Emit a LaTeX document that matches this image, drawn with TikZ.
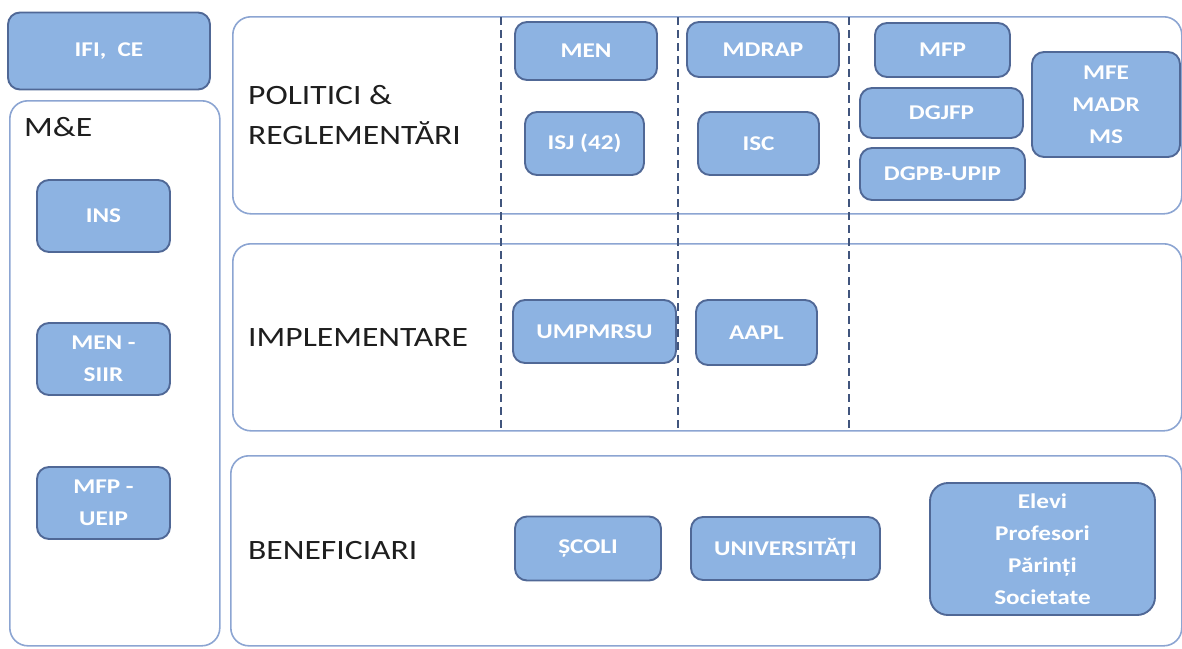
\documentclass[tikz,border=0pt]{standalone}
\usepackage{fontspec}
\setmainfont{Carlito}[FakeStretch=1.2]
\usepackage{tikz}
\usetikzlibrary{shapes}

\definecolor{orgfill}{RGB}{141,179,226}
\definecolor{orgline}{RGB}{80,104,150}
\definecolor{panelline}{RGB}{140,165,210}
\definecolor{divline}{RGB}{65,85,125}
\definecolor{lbltext}{RGB}{30,30,30}

\begin{document}
\begin{tikzpicture}[x=1pt,y=-1pt]
    \tikzstyle{panel}=[rectangle,draw=panelline,line width=1.6pt,rounded corners=18pt,inner sep=0pt,anchor=north west]
    \tikzstyle{org}=[rectangle,draw=orgline,fill=orgfill,line width=1.9pt,rounded corners=12pt,inner sep=0pt,
      text=white,align=center,font=\bfseries\fontsize{21}{32}\selectfont]
    \tikzstyle{lbl}=[anchor=west,align=left,inner sep=0pt,text=lbltext,font=\fontsize{28}{40}\selectfont]
    \tikzstyle{divider}=[draw=divline,line width=1.6pt,dash pattern=on 8pt off 5pt]
    \useasboundingbox (0,0) rectangle (1182,648);

    % panels
    \node[panel,minimum width=210,minimum height=545] (mepanel) at (9,100) {};
    \node[panel,minimum width=949,minimum height=197] (polpanel) at (232,16) {};
    \node[panel,minimum width=949,minimum height=187] (implpanel) at (232,243) {};
    \node[panel,minimum width=951,minimum height=190] (benpanel) at (230,455) {};

    % dashed columns
    \foreach \x/\n in {501/a,678/b,849/c} {
      \coordinate (top\n) at (\x,17);
      \coordinate (bot\n) at (\x,431);
      \draw[divider] (top\n) -- (bot\n);
    }

    % labels
    \node[lbl] (melbl) at (24,127) {M\&E};
    \node[lbl] (pollbl) at (248,115) {POLITICI \&\\REGLEMENTĂRI};
    \node[lbl] (impllbl) at (248,338) {IMPLEMENTARE};
    \node[lbl] (benlbl) at (248,551) {BENEFICIARI};

    % left column
    \node[org,minimum width=202,minimum height=77] (ifi) at (109,51) {IFI,\ \ CE};
    \node[org,minimum width=133,minimum height=72] (ins) at (103.5,216) {INS};
    \node[org,minimum width=133,minimum height=72] (siir) at (103.5,359) {MEN -\\SIIR};
    \node[org,minimum width=133,minimum height=72] (ueip) at (103.5,503) {MFP -\\UEIP};

    % politici & reglementari
    \node[org,minimum width=142,minimum height=58] (men) at (586,51) {MEN};
    \node[org,minimum width=119,minimum height=63] (isj) at (584.5,143.5) {ISJ (42)};
    \node[org,minimum width=152,minimum height=55] (mdrap) at (763,49.5) {MDRAP};
    \node[org,minimum width=121,minimum height=63] (isc) at (758.5,143.5) {ISC};
    \node[org,minimum width=135,minimum height=54] (mfp) at (942.5,50) {MFP};
    \node[org,minimum width=163,minimum height=50] (dgjfp) at (941.5,113) {DGJFP};
    \node[org,minimum width=165,minimum height=52] (dgpb) at (942.5,174) {DGPB-UPIP};
    \node[org,minimum width=148,minimum height=105] (mfe) at (1106,104.5) {MFE\\MADR\\MS};

    % implementare
    \node[org,minimum width=163,minimum height=63] (umpmrsu) at (594.5,331.5) {UMPMRSU};
    \node[org,minimum width=121,minimum height=65] (aapl) at (756.5,332.5) {AAPL};

    % beneficiari
    \node[org,minimum width=146,minimum height=64] (scoli) at (588,548.5) {ȘCOLI};
    \node[org,minimum width=189,minimum height=63] (univ) at (785.5,548.5) {UNIVERSITĂȚI};
    \node[org,minimum width=225,minimum height=132,rounded corners=18pt] (elevi) at (1042.5,549) {Elevi\\Profesori\\Părinți\\Societate};
\end{tikzpicture}
\end{document}
